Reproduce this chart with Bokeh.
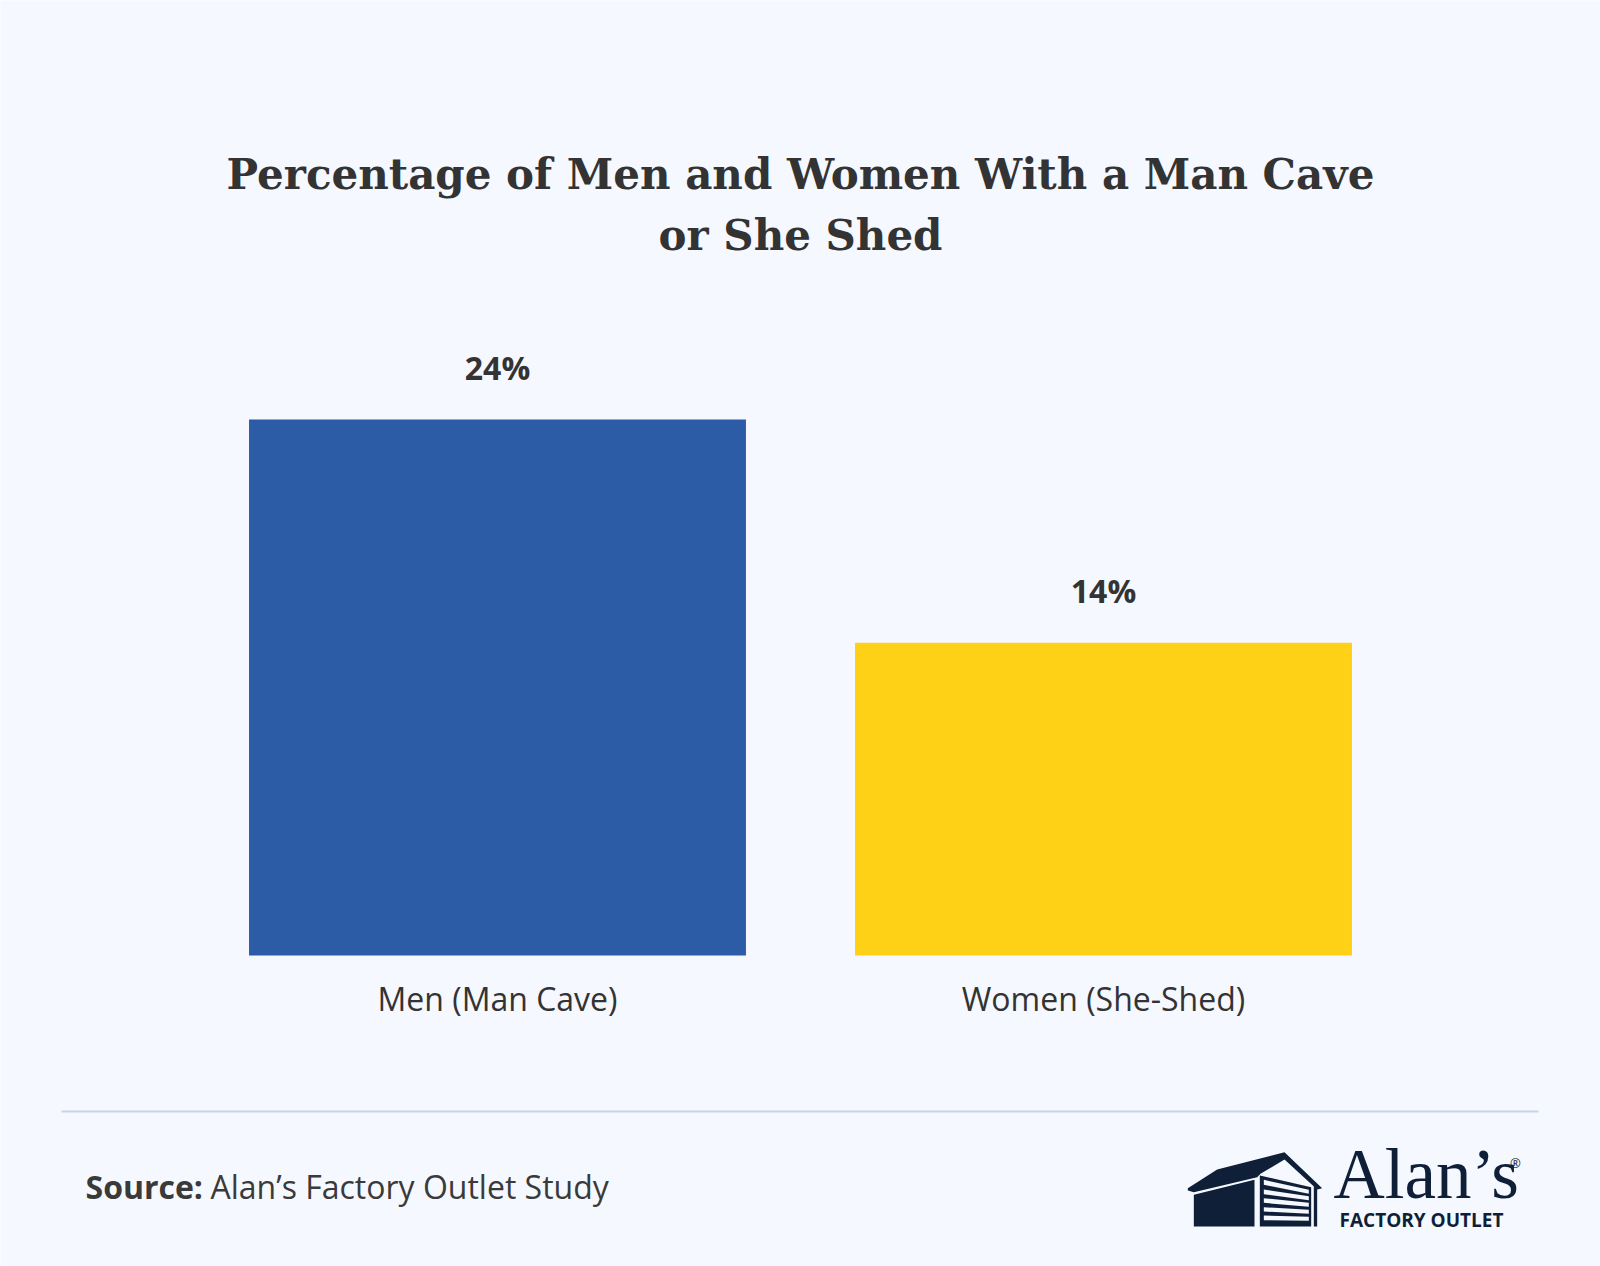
from bokeh.plotting import figure
from bokeh.models import Range1d, FactorRange, ColumnDataSource
from bokeh.embed import file_html
from bokeh.resources import INLINE
from bokeh.core.properties import value

# ---- data ----
categories = ["Men (Man Cave)", "Women (She-Shed)"]
percentages = [24, 14]
value_labels = ["24%", "14%"]
bar_colors = ["#2b5ca5", "#fed116"]
title_lines = ["Percentage of Men and Women With a Man Cave", "or She Shed"]
source_label = "Source:"
source_text = "Alan\u2019s Factory Outlet Study"
logo_name = "Alan\u2019s"
logo_sub = "FACTORY OUTLET"

W, H = 1600, 1266
BG = "#f5f8fe"
TXT = "#333333"
NAVY = "#0f1f38"
PAD = 0.3201

p = figure(width=W, height=H,
           x_range=FactorRange(*categories, range_padding=PAD),
           y_range=Range1d(-13.925, 42.761),
           output_backend="svg", toolbar_location=None,
           x_axis_location=None, y_axis_location=None,
           min_border=0, background_fill_color=BG, border_fill_color=BG,
           outline_line_color=None)
p.grid.grid_line_color = None

# page-pixel y range for decoration (page coords, y downward)
p.extra_y_ranges = {"px": Range1d(H, 0)}

UNIT = W / (len(categories) + 2 * PAD)


def fx(px):
    """page-pixel x -> categorical coordinate (factor, offset)"""
    return (categories[0], px / UNIT - PAD - 0.5)


src = ColumnDataSource(dict(cat=categories, pct=percentages, label=value_labels, color=bar_colors))

p.vbar(x="cat", top="pct", bottom=0, width=0.82, fill_color="color", line_color=None, source=src)

p.text(x="cat", y="pct", text="label", y_offset=-52, text_align="center", text_baseline="middle",
       text_font=value("Open Sans"), text_font_style="bold", text_font_size="32px",
       text_color=TXT, source=src)
p.text(x="cat", y=0, text="cat", y_offset=43, text_align="center", text_baseline="middle",
       text_font=value("Open Sans"), text_font_size="32px", text_color=TXT, source=src)

# title
p.text(x=[fx(800), fx(800)], y=[174, 235], text=title_lines, y_range_name="px",
       text_align="center", text_baseline="middle", text_font=value("DejaVu Serif"),
       text_font_style="bold", text_font_size="42px", text_color=TXT)

# separator
p.segment(x0=[fx(61)], y0=[1111], x1=[fx(1538)], y1=[1111], y_range_name="px",
          line_color="#c5d4ea", line_width=2)

# source
p.text(x=[fx(85)], y=[1186], text=[source_label], y_range_name="px",
       text_align="left", text_baseline="middle", text_font=value("Open Sans"),
       text_font_style="bold", text_font_size="32px", text_color="#3a3a3a")
p.text(x=[fx(210)], y=[1186], text=[source_text], y_range_name="px",
       text_align="left", text_baseline="middle", text_font=value("Open Sans"),
       text_font_size="32px", text_color="#3a3a3a")

# logo icon (outline points in icon-local units)
roof = [(22, 128), (110, 72), (312, 20), (425, 128), (410, 132), (312, 42), (240, 85), (230, 95), (40, 140), (22, 135)]
wall = [(40, 148), (222, 103), (222, 243), (40, 243)]
door = [(238, 90), (392, 125), (392, 243), (238, 243)]
post = [(400, 122), (410, 130), (410, 243), (400, 243)]
slats = [
    [(250, 103), (385, 133), (385, 145), (250, 118)],
    [(250, 132), (385, 152), (385, 164), (250, 146)],
    [(250, 158), (385, 172), (385, 184), (250, 172)],
    [(250, 185), (385, 193), (385, 205), (250, 198)],
    [(250, 210), (385, 214), (385, 226), (250, 224)],
]


def to_page(pts):
    return [fx(1180 + x / 3) for x, _ in pts], [1145 + y / 3 for _, y in pts]


dark = [roof, wall, door, post]
xs, ys = zip(*[to_page(s) for s in dark])
p.patches(xs=list(xs), ys=list(ys), y_range_name="px", fill_color=NAVY, line_color=None)
xs, ys = zip(*[to_page(s) for s in slats])
p.patches(xs=list(xs), ys=list(ys), y_range_name="px", fill_color=BG, line_color=None)

p.text(x=[fx(1333)], y=[1173], text=[logo_name], y_range_name="px",
       text_align="left", text_baseline="alphabetic", text_font=value("Liberation Serif"),
       text_font_size="71px", text_color=NAVY)
p.text(x=[fx(1515)], y=[1162], text=["\u00ae"], y_range_name="px",
       text_align="center", text_baseline="middle", text_font=value("Open Sans"),
       text_font_size="13px", text_color=NAVY)
p.text(x=[fx(1421)], y=[1219], text=[logo_sub], y_range_name="px",
       text_align="center", text_baseline="middle", text_font=value("Open Sans"),
       text_font_style="bold", text_font_size="19px", text_color=NAVY)

open("out.html", "w").write(file_html(p, INLINE))
